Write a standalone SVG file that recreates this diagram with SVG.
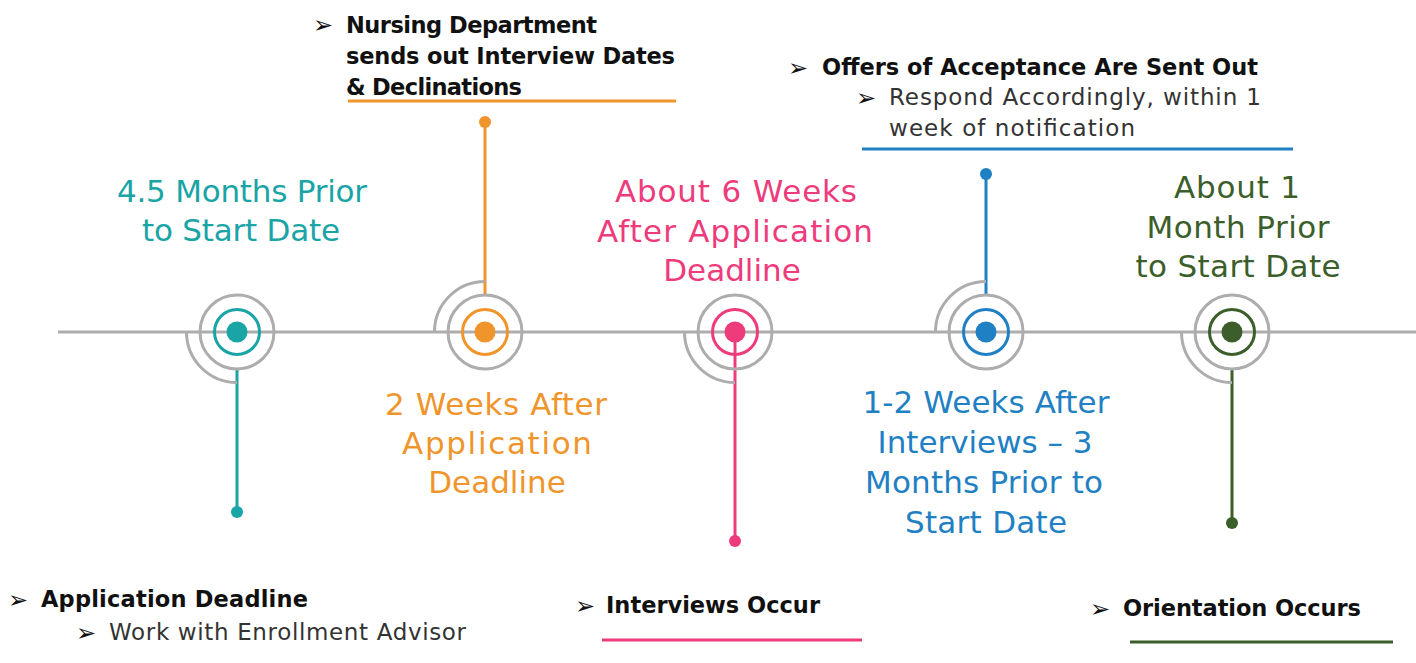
<svg xmlns="http://www.w3.org/2000/svg" width="1416" height="663" viewBox="0 0 1416 663">
<style>
.big{font-family:"DejaVu Sans",sans-serif;font-size:31px;text-anchor:middle}
.b{font-family:"DejaVu Sans",sans-serif;font-size:22.5px;font-weight:bold;fill:#111}
.r{font-family:"DejaVu Sans",sans-serif;font-size:23px;fill:#333}
.ar{font-family:"DejaVu Sans",sans-serif;font-size:24px;fill:#111}
.gray{fill:none;stroke:#ADADAD;stroke-width:3}
.ring{fill:none;stroke-width:3}
</style>
<rect width="1416" height="663" fill="#fff"/>
<g id="connectors">
<line x1="58" y1="332" x2="1416" y2="332" stroke="#ADADAD" stroke-width="3"/>
<line x1="237" y1="370" x2="237" y2="512" stroke="#19A4A5" stroke-width="3"/>
<circle cx="237" cy="512" r="6" fill="#19A4A5"/>
<line x1="485" y1="122" x2="485" y2="295" stroke="#F0952B" stroke-width="3"/>
<circle cx="485" cy="122" r="6" fill="#F0952B"/>
<line x1="735" y1="333" x2="735" y2="541" stroke="#EE3B7C" stroke-width="3"/>
<circle cx="735" cy="541" r="6" fill="#EE3B7C"/>
<line x1="986" y1="174" x2="986" y2="295" stroke="#1F80C3" stroke-width="3"/>
<circle cx="986" cy="174" r="6" fill="#1F80C3"/>
<line x1="1232" y1="370" x2="1232" y2="523" stroke="#3B5E2B" stroke-width="3"/>
<circle cx="1232" cy="523" r="6" fill="#3B5E2B"/>
</g>
<g id="node1">
<path class="gray" d="M186.5 332 A50.5 50.5 0 0 0 237 382.5"/>
<circle class="gray" cx="237" cy="332" r="37"/>
<circle class="ring" cx="237" cy="332" r="22.5" stroke="#19A4A5"/>
<circle cx="237" cy="332" r="10.5" fill="#19A4A5"/>
<text class="big" fill="#19A4A5"><tspan x="242" y="202" textLength="250">4.5 Months Prior</tspan><tspan x="241" y="241" textLength="198">to Start Date</tspan></text>
<text class="ar" x="8" y="608">➢</text>
<text class="b" x="41" y="607" textLength="267">Application Deadline</text>
<text class="ar" x="76" y="641">➢</text>
<text class="r" x="109" y="640" textLength="357">Work with Enrollment Advisor</text>
</g>
<g id="node2">
<path class="gray" d="M434.5 332 A50.5 50.5 0 0 1 485 281.5"/>
<circle class="gray" cx="485" cy="332" r="37"/>
<circle class="ring" cx="485" cy="332" r="22.5" stroke="#F0952B"/>
<circle cx="485" cy="332" r="10.5" fill="#F0952B"/>
<text class="big" fill="#F0952B"><tspan x="496" y="415" textLength="222">2 Weeks After</tspan><tspan x="497" y="454" textLength="190">Application</tspan><tspan x="497" y="493">Deadline</tspan></text>
<text class="ar" x="313" y="33">➢</text>
<text class="b"><tspan x="346" y="33" textLength="251">Nursing Department</tspan><tspan x="346" y="64" textLength="329">sends out Interview Dates</tspan><tspan x="346" y="95" textLength="176">&amp; Declinations</tspan></text>
<line x1="348" y1="101" x2="676" y2="101" stroke="#F0952B" stroke-width="3"/>
</g>
<g id="node3">
<path class="gray" d="M684.5 332 A50.5 50.5 0 0 0 735 382.5"/>
<circle class="gray" cx="735" cy="332" r="37"/>
<circle class="ring" cx="735" cy="332" r="22.5" stroke="#EE3B7C"/>
<circle cx="735" cy="332" r="10.5" fill="#EE3B7C"/>
<text class="big" fill="#EE3B7C"><tspan x="736" y="202" textLength="242">About 6 Weeks</tspan><tspan x="735" y="242" textLength="276">After Application</tspan><tspan x="732" y="281">Deadline</tspan></text>
<text class="ar" x="575" y="614">➢</text>
<text class="b" x="606" y="613" textLength="214">Interviews Occur</text>
<line x1="602" y1="640" x2="862" y2="640" stroke="#EE3B7C" stroke-width="3"/>
</g>
<g id="node4">
<path class="gray" d="M935.5 332 A50.5 50.5 0 0 1 986 281.5"/>
<circle class="gray" cx="986" cy="332" r="37"/>
<circle class="ring" cx="986" cy="332" r="22.5" stroke="#1F80C3"/>
<circle cx="986" cy="332" r="10.5" fill="#1F80C3"/>
<text class="big" fill="#1F80C3"><tspan x="986" y="413" textLength="247">1-2 Weeks After</tspan><tspan x="985" y="453" textLength="215">Interviews – 3</tspan><tspan x="984" y="493" textLength="238">Months Prior to</tspan><tspan x="986" y="533" textLength="162">Start Date</tspan></text>
<text class="ar" x="788" y="76">➢</text>
<text class="b" x="822" y="75" textLength="436">Offers of Acceptance Are Sent Out</text>
<text class="ar" x="856" y="106">➢</text>
<text class="r"><tspan x="889" y="105" textLength="372">Respond Accordingly, within 1</tspan><tspan x="889" y="136" textLength="246">week of notification</tspan></text>
<line x1="862" y1="149" x2="1293" y2="149" stroke="#1F80C3" stroke-width="3"/>
</g>
<g id="node5">
<path class="gray" d="M1181.5 332 A50.5 50.5 0 0 0 1232 382.5"/>
<circle class="gray" cx="1232" cy="332" r="37"/>
<circle class="ring" cx="1232" cy="332" r="22.5" stroke="#3B5E2B"/>
<circle cx="1232" cy="332" r="10.5" fill="#3B5E2B"/>
<text class="big" fill="#3B5E2B"><tspan x="1237" y="198" textLength="126">About 1</tspan><tspan x="1238" y="238" textLength="183">Month Prior</tspan><tspan x="1238" y="277" textLength="205">to Start Date</tspan></text>
<text class="ar" x="1090" y="617">➢</text>
<text class="b" x="1123" y="616" textLength="238">Orientation Occurs</text>
<line x1="1130" y1="642" x2="1393" y2="642" stroke="#3B5E2B" stroke-width="3"/>
</g>
</svg>
